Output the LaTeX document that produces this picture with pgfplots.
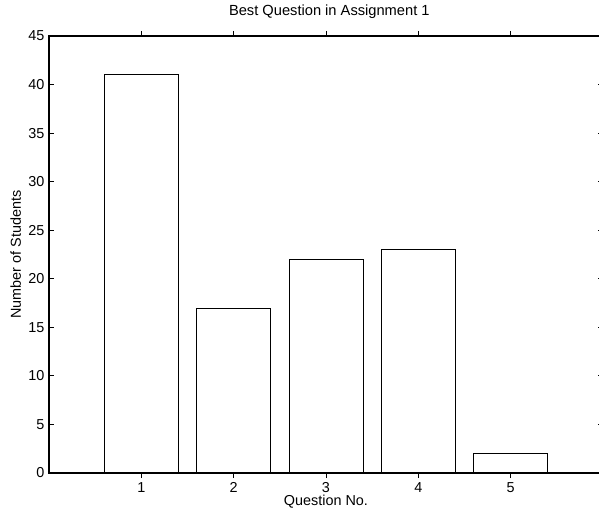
\documentclass[border=0pt]{standalone}
\usepackage{pgfplots}
\pgfplotsset{compat=1.18}
\usepackage{fontspec}
\setmainfont{Liberation Sans}
\begin{document}
\begin{tikzpicture}
\begin{axis}[
  scale only axis,
  width=415.5pt, height=327.75pt,
  xmin=0, xmax=6, ymin=0, ymax=45,
  xtick={1,2,3,4,5}, ytick={0,5,...,45},
  tick align=inside,
  major tick length=3.75pt,
  axis on top,
  axis line style={line width=0.9pt},
  tick style={line width=0.6pt, black},
  /pgf/number format/assume math mode=true,
  ticklabel style={font=\fontsize{10.8}{12}\selectfont},
  label style={font=\fontsize{10.8}{12}\selectfont},
  title style={font=\fontsize{11}{13}\selectfont, yshift=3.5pt, xshift=2.5pt},
  title={Best Question in Assignment 1},
  xlabel={Question No.},
  ylabel={Number of Students},
  xlabel style={yshift=5pt},
  ylabel style={yshift=-1.5pt},
  ybar, bar width=0.8,
  clip=false,
]
\addplot[draw=black, fill=white, line width=0.6pt] coordinates {(1,41) (2,17) (3,22) (4,23) (5,2)};
\end{axis}
\pgfresetboundingbox
\path[use as bounding box] ([shift={(-36.75pt,-26.25pt)}]current axis.south west) rectangle ([shift={(-3pt,27pt)}]current axis.north east);
\end{tikzpicture}
\end{document}
